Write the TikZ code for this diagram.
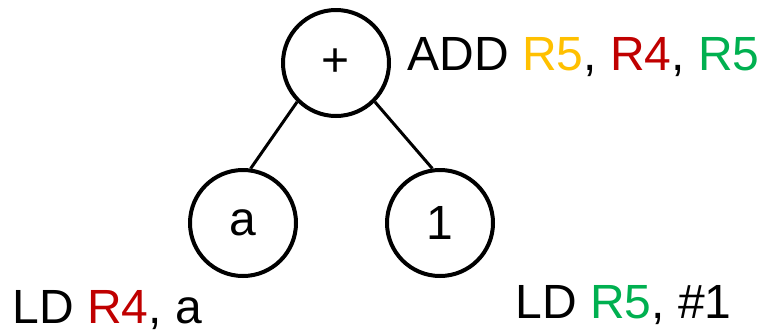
\documentclass[tikz,border=0pt]{standalone}
\usepackage{fontspec}
\setmainfont{Liberation Sans}
\usepackage{tikz}
\usetikzlibrary{positioning}
\definecolor{regy}{HTML}{FFC000}
\definecolor{regr}{HTML}{C00000}
\definecolor{regg}{HTML}{00B050}

\begin{document}
\begin{tikzpicture}[x=0.5pt, y=-0.5pt, font=\fontsize{24}{28}\selectfont,
  treenode/.style={draw, circle, line width=2pt, minimum size=53pt, inner sep=0pt},
  instr/.style={anchor=base west, inner sep=0pt}]
  \useasboundingbox (0,0) rectangle (770,333);
  \node[treenode] (plus) at (336,63) {+};
  \node[treenode] (a) at (243,223) {a};
  \node[treenode] (one) at (440,223) {1};

  \node[instr] (add) at (407,70) {ADD \textcolor{regy}{R5}, \textcolor{regr}{R4}, \textcolor{regg}{R5}};
  \node[instr] (lda) at (12,323) {LD \textcolor{regr}{R4}, a};
  \node[instr] (ldone) at (515,318) {LD \textcolor{regg}{R5}, \#1};

  \draw[line width=1.5pt] (plus.225) -- (a.82);
  \draw[line width=1.5pt] (plus.315) -- (one.98);
\end{tikzpicture}
\end{document}
